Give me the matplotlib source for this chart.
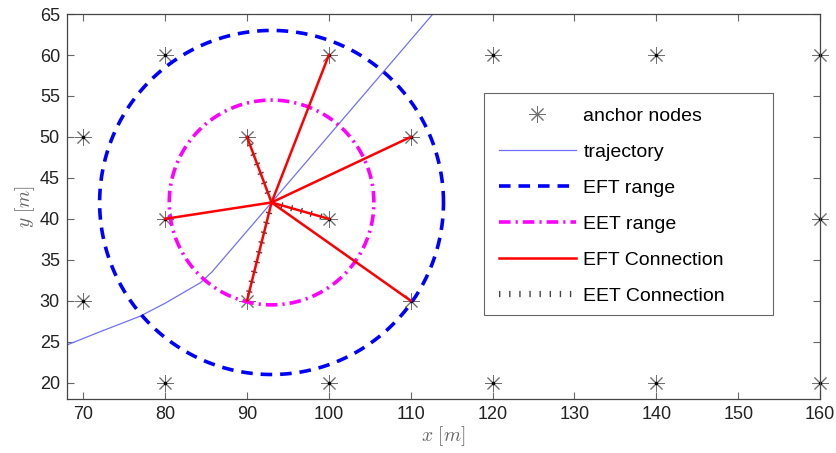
import numpy as np
import matplotlib
matplotlib.use('Agg')
import matplotlib.pyplot as plt
from matplotlib.patches import Rectangle

plt.rcParams['font.family'] = ['Liberation Sans', 'DejaVu Sans']
plt.rcParams['mathtext.fontset'] = 'cm'

# anchor grid
anchor_x = [70, 70, 80, 80, 80, 90, 90, 100, 100, 100, 110, 110, 120, 120, 120,
            130, 130, 140, 140, 140, 150, 150, 160, 160, 160]
anchor_y = [30, 50, 20, 40, 60, 30, 50, 20, 40, 60, 30, 50, 20, 40, 60,
            30, 50, 20, 40, 60, 30, 50, 20, 40, 60]

# trajectory of the target
traj_x = [68, 72, 76.9, 80, 84.3, 85.7, 93, 112.7]
traj_y = [24.6, 26.2, 28.1, 29.7, 32.2, 33.5, 42, 65]

# current position and ranges
pos = (93, 42)
eft_radius = 21
eet_radius = 12.5

# connected anchors
eft_conn = [(80, 40), (90, 30), (90, 50), (100, 40), (100, 60), (110, 30), (110, 50)]
eet_conn = [(90, 50), (100, 40), (90, 30)]

fig = plt.figure(figsize=(8.36, 4.53), dpi=100)
ax = fig.add_axes([0.080, 0.119, 0.901, 0.850])

h_anchor, = ax.plot(anchor_x, anchor_y, linestyle='none', marker=(8, 2, 0),
                    markersize=12, markeredgewidth=0.7, color='#707070',
                    label='anchor nodes', clip_on=False)
ax.plot(anchor_x, anchor_y, linestyle='none', marker='.', markersize=3,
        color='black', clip_on=False)

h_traj, = ax.plot(traj_x, traj_y, color='#7070ff', lw=0.9, label='trajectory')

t = np.linspace(0, 2 * np.pi, 400)
h_eft, = ax.plot(pos[0] + eft_radius * np.cos(t), pos[1] + eft_radius * np.sin(t),
                 color='#0000ff', lw=2.6, dashes=(3.2, 2.2), label='EFT range')
h_eet, = ax.plot(pos[0] + eet_radius * np.cos(t), pos[1] + eet_radius * np.sin(t),
                 color='#ff00ff', lw=2.6, dashes=(3.2, 1.4, 0.6, 1.4), label='EET range')

for i, (ex, ey) in enumerate(eet_conn):
    h = ax.plot([pos[0], ex], [pos[1], ey], color='#444444', lw=4.5,
                dashes=(0.22, 1.4), label='EET Connection' if i == 0 else None)
    if i == 0:
        h_eetc = h[0]

for i, (ex, ey) in enumerate(eft_conn):
    h = ax.plot([pos[0], ex], [pos[1], ey], color='#ff0000', lw=1.8,
                label='EFT Connection' if i == 0 else None)
    if i == 0:
        h_eftc = h[0]

ax.set_xlim(68, 160)
ax.set_ylim(18, 65)
ax.set_xticks(np.arange(70, 161, 10))
ax.set_yticks(np.arange(20, 66, 5))
ax.tick_params(direction='in', top=True, right=True, length=5, width=0.8,
               color='#666666', labelsize=13, labelcolor='#222222', pad=5)
for s in ax.spines.values():
    s.set_color('#444444')
    s.set_linewidth(0.9)

ax.set_xlabel(r'$x\ [m]$', fontsize=14, color='#666666', labelpad=1)
ax.set_ylabel(r'$y\ [m]$', fontsize=14, color='#666666', labelpad=2)

# legend box, wider than the entries like the matlab one
box = Rectangle((0.554, 0.218), 0.384, 0.577, transform=ax.transAxes,
                facecolor='white', edgecolor='#666666', lw=0.8, zorder=4)
ax.add_patch(box)

leg = ax.legend([h_anchor, h_traj, h_eft, h_eet, h_eftc, h_eetc],
                ['anchor nodes', 'trajectory', 'EFT range', 'EET range',
                 'EFT Connection', 'EET Connection'],
                loc='upper left', bbox_to_anchor=(0.554, 0.795), fontsize=14,
                frameon=False, handlelength=3.95, labelspacing=0.94,
                borderpad=0.75, handletextpad=0.4, borderaxespad=0)

fig.savefig('out.png', dpi=100)
